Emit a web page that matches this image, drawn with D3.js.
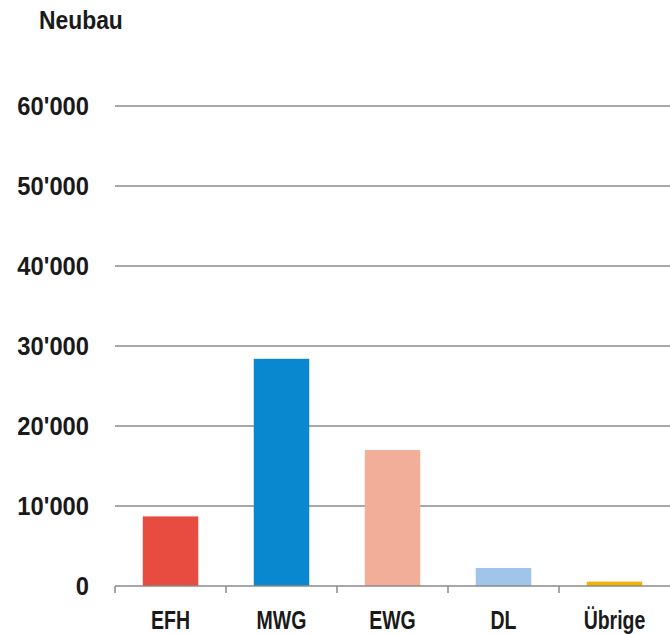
<!DOCTYPE html>
<html>
<head>
<meta charset="utf-8">
<script src="https://cdn.jsdelivr.net/npm/d3@7"></script>
<style>
  body { margin: 0; background: #fff; }
  text { font-family: "Liberation Sans", Arial, sans-serif; fill: #1a1a1a; }
</style>
</head>
<body>
<div id="chart"></div>
<script>
// categories and values (Neubau)
const categories = ["EFH", "MWG", "EWG", "DL", "Übrige"];
const values = [8700, 28400, 17000, 2250, 550];
const colors = ["#e84b40", "#0a88cf", "#f2ae98", "#a0c4ea", "#f0b400"];
const yTicks = [0, 10000, 20000, 30000, 40000, 50000, 60000];

const W = 670, H = 634;
const margin = { top: 106, right: 0, bottom: 48, left: 115 };
const width = W - margin.left - margin.right,
  height = H - margin.top - margin.bottom;

const svg = d3.select("#chart").append("svg")
  .attr("width", W)
  .attr("height", H);

// title, squeezed a bit to look like a condensed face
svg.append("text")
  .attr("transform", "translate(39,29) scale(0.88,1)")
  .attr("font-size", 26)
  .attr("font-weight", "bold")
  .text("Neubau");

const g = svg.append("g")
  .attr("transform", "translate(" + margin.left + "," + margin.top + ")");

const x = d3.scaleBand().domain(categories).range([0, width])
  .paddingInner(0.5)
  .paddingOuter(0.25);
const y = d3.scaleLinear().domain([0, 60000]).range([height, 0]);

// gridlines
g.selectAll(".grid")
  .data(yTicks.filter((d) => d > 0))
  .enter()
  .append("line")
  .attr("x1", 0)
  .attr("x2", width)
  .attr("y1", (d) => y(d))
  .attr("y2", (d) => y(d))
  .attr("stroke", "#8a8a8a")
  .attr("stroke-width", 1.5);

// y labels
const fmt = (d) => d3.format(",")(d).replace(/,/g, "'");
g.selectAll(".ylab")
  .data(yTicks)
  .enter()
  .append("text")
  .attr("transform", (d) => "translate(-26," + (y(d) + 9) + ") scale(0.95,1)")
  .attr("text-anchor", "end")
  .attr("font-size", 25)
  .attr("font-weight", "bold")
  .text(fmt);

// bars
g.selectAll(".bar")
  .data(values)
  .enter()
  .append("rect")
  .attr("x", (d, i) => x(categories[i]))
  .attr("y", (d) => y(d))
  .attr("width", x.bandwidth())
  .attr("height", (d) => height - y(d))
  .attr("fill", (d, i) => colors[i]);

// x axis
const gap = (x.step() - x.bandwidth()) / 2;
const xAxis = g.append("g")
  .attr("transform", "translate(0," + height + ")");
xAxis.append("line")
  .attr("x1", 0).attr("x2", width)
  .attr("stroke", "#8a8a8a").attr("stroke-width", 1.5);
xAxis.selectAll(".tick")
  .data(categories)
  .enter()
  .append("line")
  .attr("x1", (d) => x(d) - gap)
  .attr("x2", (d) => x(d) - gap)
  .attr("y1", 0)
  .attr("y2", 7)
  .attr("stroke", "#8a8a8a")
  .attr("stroke-width", 1.5);
xAxis.selectAll(".xlab")
  .data(categories)
  .enter()
  .append("text")
  .attr("transform", (d) => "translate(" + (x(d) + x.bandwidth() / 2) + ",43) scale(0.78,1)")
  .attr("text-anchor", "middle")
  .attr("font-size", 25)
  .attr("font-weight", "bold")
  .text((d) => d);
</script>
</body>
</html>
